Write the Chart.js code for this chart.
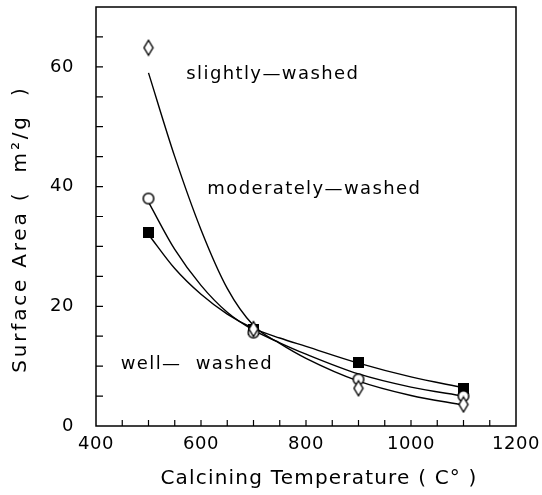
<!DOCTYPE html>
<html>
<head>
<meta charset="utf-8">
<script src="https://cdn.jsdelivr.net/npm/chart.js@4/dist/chart.umd.min.js"></script>
<style>
  html, body { margin: 0; padding: 0; background: #fff; }
</style>
</head>
<body>
<canvas id="chart" width="542" height="495"></canvas>
<script>
// measured points
const temps = [500, 700, 900, 1100];
const slightly = [63.2, 16.2, 6.3, 3.6];
const moderately = [38.0, 15.6, 7.8, 5.0];
const well = [32.3, 16.2, 10.6, 6.2];

// fitted curves
const fitTemps = [500, 550, 600, 650, 700, 750, 800, 900, 1000, 1100];
const slightlyFit = [59.0, 45.0, 32.8, 23.0, 16.8, 13.8, 11.3, 7.5, 5.1, 3.5];
const moderatelyFit = [37.4, 29.5, 23.5, 19.0, 16.0, 13.9, 12.0, 8.7, 6.5, 5.0];
const wellFit = [32.0, 26.3, 22.0, 18.7, 16.3, 14.7, 13.3, 10.5, 8.2, 6.4];

const xTicks = [400, 600, 800, 1000, 1200];
const yTicks = [0, 20, 40, 60];

const FONT = '"DejaVu Sans", sans-serif';

function marker(kind) {
  const c = document.createElement('canvas');
  const g = c.getContext('2d');
  if (kind === 'diamond') {
    c.width = 12; c.height = 18;
    g.beginPath();
    g.moveTo(6, 1.5); g.lineTo(10.5, 9); g.lineTo(6, 16.5); g.lineTo(1.5, 9); g.closePath();
    g.fillStyle = '#fff'; g.fill();
    g.lineWidth = 1.4; g.strokeStyle = '#000'; g.stroke();
  } else if (kind === 'circle') {
    c.width = 14; c.height = 14;
    g.beginPath(); g.arc(7, 7, 5.3, 0, Math.PI * 2);
    g.fillStyle = '#fff'; g.fill();
    g.lineWidth = 1.5; g.strokeStyle = '#000'; g.stroke();
  } else {
    c.width = 11; c.height = 11;
    g.fillStyle = '#000'; g.fillRect(0, 0, 11, 11);
  }
  return c;
}

function pts(xs, ys) {
  return xs.map((x, i) => ({ x: x, y: ys[i] }));
}

function fitLine(xs, ys) {
  return {
    type: 'line',
    data: pts(xs, ys),
    borderColor: '#000',
    borderWidth: 1.4,
    pointRadius: 0,
    cubicInterpolationMode: 'monotone',
    fill: false,
    order: 1
  };
}

function markSet(ys, kind) {
  return {
    type: 'scatter',
    data: pts(temps, ys),
    pointStyle: marker(kind),
    showLine: false,
    order: 0
  };
}

const frame = {
  id: 'frame',
  beforeDraw(chart) {
    chart.ctx.letterSpacing = '0.6px';
  },
  afterDraw(chart) {
    const ctx = chart.ctx;
    const a = chart.chartArea;
    const xs = chart.scales.x, ys = chart.scales.y;
    ctx.save();
    ctx.strokeStyle = '#000';
    ctx.lineWidth = 1.5;
    ctx.strokeRect(a.left, a.top, a.right - a.left, a.bottom - a.top);
    ctx.lineWidth = 1.2;
    ctx.beginPath();
    for (let t = 450; t < 1200; t += 50) {
      const px = xs.getPixelForValue(t);
      ctx.moveTo(px, a.bottom); ctx.lineTo(px, a.bottom - 6);
    }
    for (let v = 5; v < 70; v += 5) {
      const py = ys.getPixelForValue(v);
      ctx.moveTo(a.left, py); ctx.lineTo(a.left + 7, py);
    }
    ctx.stroke();

    ctx.fillStyle = '#000';
    ctx.letterSpacing = '1.4px';
    ctx.font = '18px ' + FONT;
    ctx.textBaseline = 'alphabetic';
    ctx.textAlign = 'left';
    const notes = [
      ['slightly\u2014washed', 572, 57.9],
      ['moderately\u2014washed', 612, 38.7],
      ['well\u2014  washed', 447, 9.6]
    ];
    notes.forEach(n => {
      ctx.fillText(n[0], xs.getPixelForValue(n[1]), ys.getPixelForValue(n[2]));
    });

    ctx.font = '20px ' + FONT;
    ctx.letterSpacing = '1.2px';
    ctx.textAlign = 'center';
    ctx.textBaseline = 'middle';
    ctx.fillText('Calcining Temperature ( C\u00b0 )', 319, 479);
    ctx.translate(21, 229);
    ctx.rotate(-Math.PI / 2);
    ctx.letterSpacing = '2.8px';
    ctx.fillText('Surface Area (  m\u00b2/g  )', 0, 0);
    ctx.restore();
  }
};

new Chart(document.getElementById('chart'), {
  data: {
    datasets: [
      markSet(slightly, 'diamond'),
      markSet(moderately, 'circle'),
      markSet(well, 'square'),
      fitLine(fitTemps, slightlyFit),
      fitLine(fitTemps, moderatelyFit),
      fitLine(fitTemps, wellFit)
    ]
  },
  options: {
    responsive: false,
    animation: false,
    layout: { padding: { top: 7, right: 26, left: 0, bottom: 0 } },
    plugins: { legend: { display: false }, tooltip: { enabled: false } },
    scales: {
      x: {
        type: 'linear',
        min: 400, max: 1200,
        afterBuildTicks: s => { s.ticks = xTicks.map(v => ({ value: v })); },
        afterFit: s => { s.height = 69; s.paddingLeft = 0; s.paddingRight = 0; },
        grid: { display: false },
        border: { display: false },
        ticks: { color: '#000', padding: 0, maxRotation: 0, callback: v => String(v), font: { family: FONT, size: 18 } }
      },
      y: {
        type: 'linear',
        min: 0, max: 70,
        afterBuildTicks: s => { s.ticks = yTicks.map(v => ({ value: v })); },
        afterFit: s => { s.width = 96; s.paddingTop = 0; s.paddingBottom = 0; },
        grid: { display: false },
        border: { display: false },
        ticks: { color: '#000', padding: 14, font: { family: FONT, size: 18 } }
      }
    }
  },
  plugins: [frame]
});
</script>
</body>
</html>
